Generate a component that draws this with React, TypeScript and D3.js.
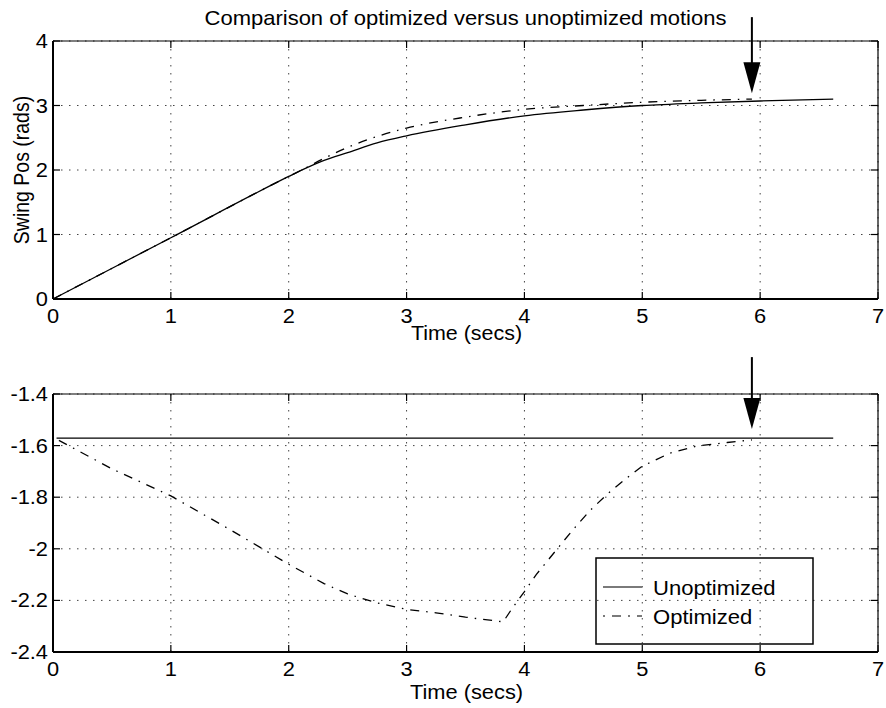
import React from "react";
import * as d3 from "d3";

// Time samples (s) and swing position (rad) for the upper panel
const unoptTopT = [0, 1, 2, 2.1, 2.3, 2.5, 2.75, 3, 3.5, 4, 4.5, 5, 5.5, 6, 6.62];
const unoptTopV = [0, 0.95, 1.9, 1.99, 2.15, 2.27, 2.42, 2.53, 2.7, 2.84, 2.93, 3.0, 3.04, 3.07, 3.1];
const optTopT = [0, 1, 2, 2.1, 2.3, 2.5, 2.75, 3, 3.5, 4, 4.5, 5, 5.5, 5.93];
const optTopV = [0, 0.95, 1.9, 1.99, 2.18, 2.35, 2.52, 2.65, 2.82, 2.94, 3.0, 3.05, 3.08, 3.1];

// Lower panel
const unoptBotT = [0.03, 6.62];
const unoptBotV = [-1.5708, -1.5708];
const optBotT = [0.05, 0.5, 1, 1.5, 2, 2.3, 2.5, 2.75, 3, 3.25, 3.5, 3.82, 3.9, 4.0, 4.1, 4.27, 4.41, 4.56, 4.71, 4.87, 5.0, 5.23, 5.46, 5.72, 5.93];
const optBotV = [-1.58, -1.69, -1.795, -1.925, -2.06, -2.135, -2.175, -2.21, -2.235, -2.248, -2.265, -2.283, -2.228, -2.166, -2.1, -2.005, -1.927, -1.85, -1.785, -1.725, -1.68, -1.63, -1.602, -1.588, -1.578];

// Axis ticks
const xTicks = [0, 1, 2, 3, 4, 5, 6, 7];
const topYTicks = [0, 1, 2, 3, 4];
const botYTicks = [-2.4, -2.2, -2, -1.8, -1.6, -1.4];
const botYTickLabels = ["-2.4", "-2.2", "-2", "-1.8", "-1.6", "-1.4"];

// Marker arrows: time, tail value, tip value
const arrowT = 5.93;
const topArrow = [4.37, 3.19];
const botArrow = [-1.257, -1.536];

const legendLabels = ["Unoptimized", "Optimized"];

const FONT = "'Liberation Sans', Arial, Helvetica, sans-serif";
const DASHDOT = "9,7,1.5,7";

const W = 886;
const H = 708;
const X0 = 53;
const X1 = 878;

const xScale = d3.scaleLinear().domain([0, 7]).range([X0, X1]);
const yTop = d3.scaleLinear().domain([0, 4]).range([299, 41]);
const yBot = d3.scaleLinear().domain([-2.4, -1.4]).range([652, 394]);

function Label({ x, y, size = 19.5, sx = 1.12, anchor = "middle", rotate = false, children }: any) {
  return (
    <g transform={`translate(${x},${y}) scale(${sx},1)${rotate ? " rotate(-90)" : ""}`}>
      <text textAnchor={anchor} fontFamily={FONT} fontSize={size} fill="#000">
        {children}
      </text>
    </g>
  );
}

function Arrow({ x, y1, y2 }: { x: number; y1: number; y2: number }) {
  const headLen = 31;
  const half = 8.5;
  const hy = y2 - headLen;
  return (
    <g>
      <line x1={x} x2={x} y1={y1} y2={hy + 1} stroke="#000" strokeWidth={2} />
      <path d={`M${x - half},${hy}L${x + half},${hy}L${x},${y2}Z`} fill="#000" />
    </g>
  );
}

function Panel({ y, yTicks, yLabels, series }: any) {
  const [yb, yt] = y.range();
  const tick = 7;
  const line = (ts: number[], vs: number[], curve: any) =>
    d3
      .line<number>()
      .x((_, i) => xScale(ts[i]))
      .y((v) => y(v))
      .curve(curve)(vs) || "";
  return (
    <g>
      {/* dotted grid */}
      {xTicks.map((t) => (
        <line key={"gx" + t} x1={xScale(t)} x2={xScale(t)} y1={yt} y2={yb} stroke="#444" strokeWidth={1} strokeDasharray="1.5,6.5" />
      ))}
      {yTicks.map((v: number) => (
        <line key={"gy" + v} x1={X0} x2={X1} y1={y(v)} y2={y(v)} stroke="#444" strokeWidth={1} strokeDasharray="1.5,6.5" />
      ))}
      {/* curves */}
      {series.map((s: any, i: number) => (
        <path key={"s" + i} d={line(s.t, s.v, s.curve)} fill="none" stroke="#000" strokeWidth={1.3} strokeDasharray={s.dash || undefined} />
      ))}
      {/* box */}
      <line x1={X0} x2={X1} y1={yt} y2={yt} stroke="#000" strokeWidth={1.2} />
      <line x1={X1} x2={X1} y1={yt} y2={yb} stroke="#000" strokeWidth={1.2} />
      <line x1={X0} x2={X1} y1={yb} y2={yb} stroke="#000" strokeWidth={2} />
      <line x1={X0} x2={X0} y1={yt} y2={yb} stroke="#000" strokeWidth={2} />
      {/* inward ticks on all four sides */}
      {xTicks.map((t) => (
        <g key={"tx" + t}>
          <line x1={xScale(t)} x2={xScale(t)} y1={yb} y2={yb - tick} stroke="#000" strokeWidth={1.2} />
          <line x1={xScale(t)} x2={xScale(t)} y1={yt} y2={yt + tick} stroke="#000" strokeWidth={1.2} />
        </g>
      ))}
      {yTicks.map((v: number) => (
        <g key={"ty" + v}>
          <line x1={X0} x2={X0 + tick} y1={y(v)} y2={y(v)} stroke="#000" strokeWidth={1.2} />
          <line x1={X1} x2={X1 - tick} y1={y(v)} y2={y(v)} stroke="#000" strokeWidth={1.2} />
        </g>
      ))}
      {/* tick labels */}
      {xTicks.map((t) => (
        <Label key={"lx" + t} x={xScale(t)} y={yb + 24}>
          {String(t)}
        </Label>
      ))}
      {yTicks.map((v: number, i: number) => (
        <Label key={"ly" + v} x={48} y={y(v) + 7} anchor="end">
          {yLabels[i]}
        </Label>
      ))}
    </g>
  );
}

export default function App() {
  const topSeries = [
    { t: unoptTopT, v: unoptTopV, curve: d3.curveMonotoneX },
    { t: optTopT, v: optTopV, curve: d3.curveMonotoneX, dash: DASHDOT },
  ];
  const botSeries = [
    { t: unoptBotT, v: unoptBotV, curve: d3.curveLinear },
    { t: optBotT, v: optBotV, curve: d3.curveLinear, dash: DASHDOT },
  ];
  const lgX = 596;
  const lgY = 558;
  const lgW = 217;
  const lgH = 86;
  const lgRows = [587, 616];
  return (
    <svg width={W} height={H} style={{ position: "absolute", left: 0, top: 0, background: "#fff" }}>
      <rect width={W} height={H} fill="#fff" />
      <Label x={(X0 + X1) / 2} y={24.5} size={20} sx={1.1}>
        Comparison of optimized versus unoptimized motions
      </Label>

      <Panel y={yTop} yTicks={topYTicks} yLabels={topYTicks.map(String)} series={topSeries} />
      <Label x={(X0 + X1) / 2 + 1} y={340} sx={1.1}>Time (secs)</Label>
      <Label x={29} y={170} rotate>
        Swing Pos (rads)
      </Label>

      <Panel y={yBot} yTicks={botYTicks} yLabels={botYTickLabels} series={botSeries} />
      <Label x={(X0 + X1) / 2 + 1} y={699}>Time (secs)</Label>

      <Arrow x={xScale(arrowT)} y1={yTop(topArrow[0])} y2={yTop(topArrow[1])} />
      <Arrow x={xScale(arrowT)} y1={yBot(botArrow[0])} y2={yBot(botArrow[1])} />

      {/* legend */}
      <rect x={lgX} y={lgY} width={lgW} height={lgH} fill="none" stroke="#000" strokeWidth={1.5} />
      {legendLabels.map((name, i) => (
        <g key={name}>
          <line x1={603} x2={642} y1={lgRows[i]} y2={lgRows[i]} stroke="#7a7a7a" strokeWidth={2} strokeDasharray={i === 1 ? "2,7,9,7" : undefined} />
          <Label x={653} y={lgRows[i] + 8} size={21} sx={1.05} anchor="start">
            {name}
          </Label>
        </g>
      ))}
    </svg>
  );
}
